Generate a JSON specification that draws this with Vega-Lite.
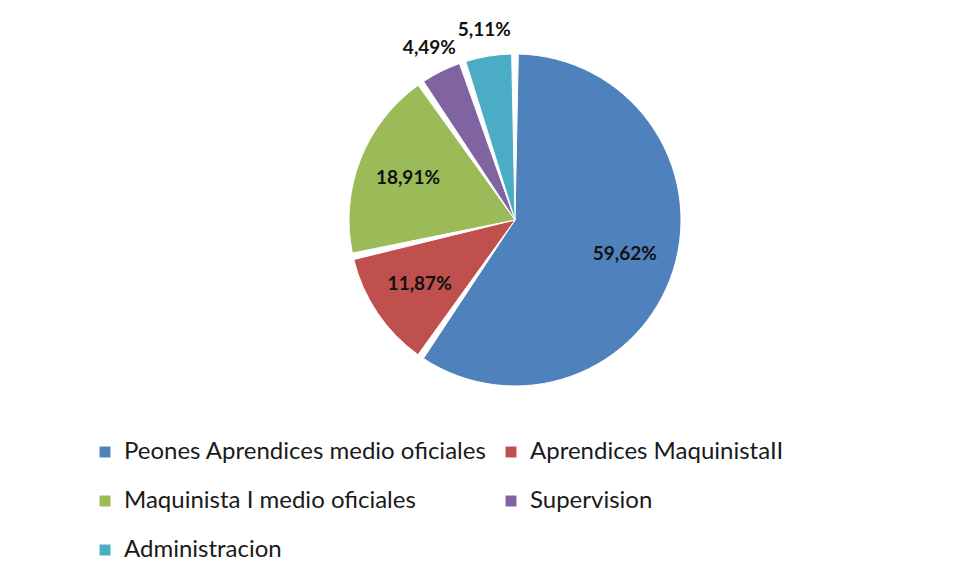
{
  "$schema": "https://vega.github.io/schema/vega-lite/v6.json",
  "width": 1030,
  "height": 440,
  "autosize": {"type": "none"},
  "padding": {"top": 0, "left": 0, "right": 0, "bottom": 139},
  "background": "white",
  "config": {"view": {"stroke": null}},
  "data": {
    "values": [
      {"order": 1, "categoria": "Peones Aprendices  medio oficiales", "pct": 59.62, "label": "59,62%", "pos": "in"},
      {"order": 2, "categoria": "Aprendices MaquinistaII", "pct": 11.87, "label": "11,87%", "pos": "in"},
      {"order": 3, "categoria": "Maquinista I medio oficiales", "pct": 18.91, "label": "18,91%", "pos": "in"},
      {"order": 4, "categoria": "Supervision", "pct": 4.49, "label": "4,49%", "pos": "out"},
      {"order": 5, "categoria": "Administracion", "pct": 5.11, "label": "5,11%", "pos": "out"}
    ]
  },
  "encoding": {
    "theta": {"field": "pct", "type": "quantitative", "stack": true},
    "order": {"field": "order", "type": "quantitative"}
  },
  "layer": [
    {
      "mark": {"type": "arc", "outerRadius": 166, "padAngle": 0.04, "stroke": "white", "strokeWidth": 1},
      "encoding": {
        "color": {
          "field": "categoria",
          "type": "nominal",
          "sort": {"field": "order"},
          "scale": {
            "domain": ["Peones Aprendices  medio oficiales", "Aprendices MaquinistaII", "Maquinista I medio oficiales", "Supervision", "Administracion"],
            "range": ["#4F81BD", "#C0504D", "#9BBB59", "#8064A2", "#4BACC6"]
          },
          "legend": {
            "title": null,
            "orient": "none",
            "direction": "horizontal",
            "legendX": 93,
            "legendY": 440,
            "columns": 2,
            "columnPadding": 6,
            "rowPadding": 25,
            "symbolType": "square",
            "symbolSize": 120,
            "symbolStrokeWidth": 0,
            "labelFont": "Lato",
            "labelFontSize": 24,
            "labelColor": "#1a1a1a",
            "labelLimit": 500,
            "labelOffset": 7
          }
        }
      }
    },
    {
      "mark": {"type": "text", "radius": 115, "font": "Lato", "fontWeight": "bold", "fontSize": 19, "color": "#111111"},
      "encoding": {
        "text": {"condition": {"test": "datum.pos == 'in'", "field": "label"}, "value": ""}
      }
    },
    {
      "mark": {"type": "text", "radius": 192, "font": "Lato", "fontWeight": "bold", "fontSize": 19, "color": "#111111"},
      "encoding": {
        "text": {"condition": {"test": "datum.pos == 'out'", "field": "label"}, "value": ""}
      }
    }
  ]
}
